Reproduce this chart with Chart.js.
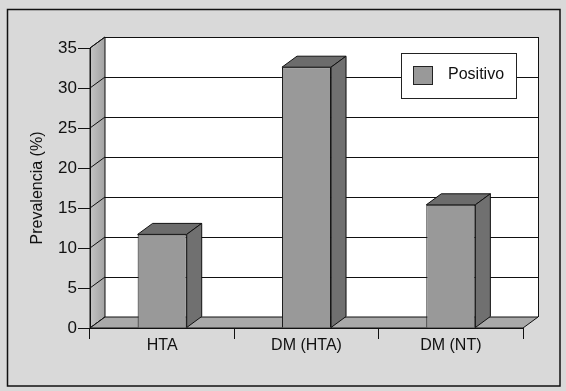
<!DOCTYPE html>
<html>
<head>
<meta charset="utf-8">
<script src="https://cdn.jsdelivr.net/npm/chart.js@4"></script>
<style>
  html, body { margin: 0; padding: 0; background: #d9d9d9; }
  #chart { display: block; }
</style>
</head>
<body>
<canvas id="chart" width="566" height="391"></canvas>
<script>
// data
var categories = ['HTA', 'DM (HTA)', 'DM (NT)'];
var positivo = [11.7, 32.6, 15.4];
var seriesLabel = 'Positivo';
var yTicks = [0, 5, 10, 15, 20, 25, 30, 35];

var FONT = '"Liberation Sans", Arial, sans-serif';
var DX = 15, DY = -11; // 3d depth

// draws the grey page, the walls, the floor and the back gridlines
var walls = {
    id: 'walls',
    beforeDraw: function(chart) {
        var c = chart.ctx;
        var a = chart.chartArea;
        var y = chart.scales.y;
        c.save();
        c.fillStyle = '#d9d9d9';
        c.fillRect(0, 0, chart.width, chart.height);
        c.strokeStyle = '#111';
        c.lineWidth = 1.5;
        c.strokeRect(7.5, 9.5, 552.5, 376.5);

        // back wall
        c.fillStyle = '#ffffff';
        c.fillRect(a.left + DX, a.top + DY, a.right - a.left, a.bottom - a.top);
        c.lineWidth = 1;
        c.strokeStyle = '#111';
        yTicks.forEach(function(v) {
            var py = Math.round(y.getPixelForValue(v) + DY) + 0.5;
            c.beginPath();
            c.moveTo(a.left + DX, py);
            c.lineTo(a.right + DX, py);
            c.stroke();
        });
        c.beginPath();
        c.moveTo(a.right + DX + 0.5, a.top + DY);
        c.lineTo(a.right + DX + 0.5, a.bottom + DY);
        c.stroke();

        // left wall
        var g = c.createLinearGradient(a.left, 0, a.left + DX, 0);
        g.addColorStop(0, '#c4c4c4');
        g.addColorStop(1, '#a2a2a2');
        c.fillStyle = g;
        c.beginPath();
        c.moveTo(a.left, a.top);
        c.lineTo(a.left + DX, a.top + DY);
        c.lineTo(a.left + DX, a.bottom + DY);
        c.lineTo(a.left, a.bottom);
        c.closePath();
        c.fill();
        c.stroke();
        yTicks.forEach(function(v) {
            var py = y.getPixelForValue(v);
            c.beginPath();
            c.moveTo(a.left, py);
            c.lineTo(a.left + DX, py + DY);
            c.stroke();
        });

        // floor
        c.fillStyle = '#a9a9a9';
        c.beginPath();
        c.moveTo(a.left, a.bottom);
        c.lineTo(a.left + DX, a.bottom + DY);
        c.lineTo(a.right + DX, a.bottom + DY);
        c.lineTo(a.right, a.bottom);
        c.closePath();
        c.fill();
        c.stroke();
        c.restore();
    }
};

// top and side faces of the bars, plus the legend box
var boxes = {
    id: 'boxes',
    afterDatasetsDraw: function(chart) {
        var c = chart.ctx;
        c.save();
        c.strokeStyle = '#111';
        c.lineWidth = 1;
        chart.getDatasetMeta(0).data.forEach(function(bar) {
            var l = bar.x - bar.width / 2, r = bar.x + bar.width / 2;
            var t = bar.y, b = bar.base;
            c.fillStyle = '#6c6c6c';
            c.beginPath();
            c.moveTo(l, t);
            c.lineTo(l + DX, t + DY);
            c.lineTo(r + DX, t + DY);
            c.lineTo(r, t);
            c.closePath();
            c.fill();
            c.stroke();
            c.fillStyle = '#707070';
            c.beginPath();
            c.moveTo(r, t);
            c.lineTo(r + DX, t + DY);
            c.lineTo(r + DX, b + DY);
            c.lineTo(r, b);
            c.closePath();
            c.fill();
            c.stroke();
        });
        c.restore();
    },
    afterDraw: function(chart) {
        var c = chart.ctx;
        c.save();
        c.fillStyle = '#ffffff';
        c.fillRect(401, 53, 115, 45);
        c.strokeStyle = '#222';
        c.lineWidth = 1;
        c.strokeRect(401.5, 53.5, 115, 45);
        c.fillStyle = '#999999';
        c.fillRect(413, 66, 19, 18);
        c.strokeRect(413.5, 66.5, 19, 18);
        c.fillStyle = '#111';
        c.font = '16px ' + FONT;
        c.textBaseline = 'middle';
        c.fillText(chart.data.datasets[0].label, 448, 75);
        c.restore();
    }
};

new Chart(document.getElementById('chart').getContext('2d'), {
    type: 'bar',
    data: {
        labels: categories,
        datasets: [{
            label: seriesLabel,
            data: positivo,
            backgroundColor: '#999999',
            borderColor: '#111',
            borderWidth: 1,
            categoryPercentage: 1,
            barPercentage: 0.34
        }]
    },
    options: {
        responsive: false,
        animation: false,
        devicePixelRatio: 1,
        layout: { padding: { top: 48, right: 43, left: 0, bottom: 0 } },
        plugins: {
            legend: { display: false },
            tooltip: { enabled: false }
        },
        scales: {
            x: {
                afterFit: function(s) { s.height = 63; },
                grid: { offset: true, drawOnChartArea: false, tickLength: 11, color: '#111' },
                border: { display: true, color: '#111' },
                ticks: { color: '#111', font: { family: FONT, size: 16 }, padding: -3 }
            },
            y: {
                min: 0,
                max: 35,
                afterFit: function(s) { s.width = 90; },
                afterBuildTicks: function(s) {
                    s.ticks = yTicks.map(function(v) { return { value: v }; });
                },
                grid: { drawOnChartArea: false, tickLength: 12, color: '#111' },
                border: { display: true, color: '#111' },
                ticks: { color: '#111', font: { family: FONT, size: 17 }, padding: 1 },
                title: {
                    display: true,
                    text: 'Prevalencia (%)',
                    color: '#111',
                    font: { family: FONT, size: 16 },
                    padding: { top: 28, bottom: 0 }
                }
            }
        }
    },
    plugins: [walls, boxes]
});
</script>
</body>
</html>
